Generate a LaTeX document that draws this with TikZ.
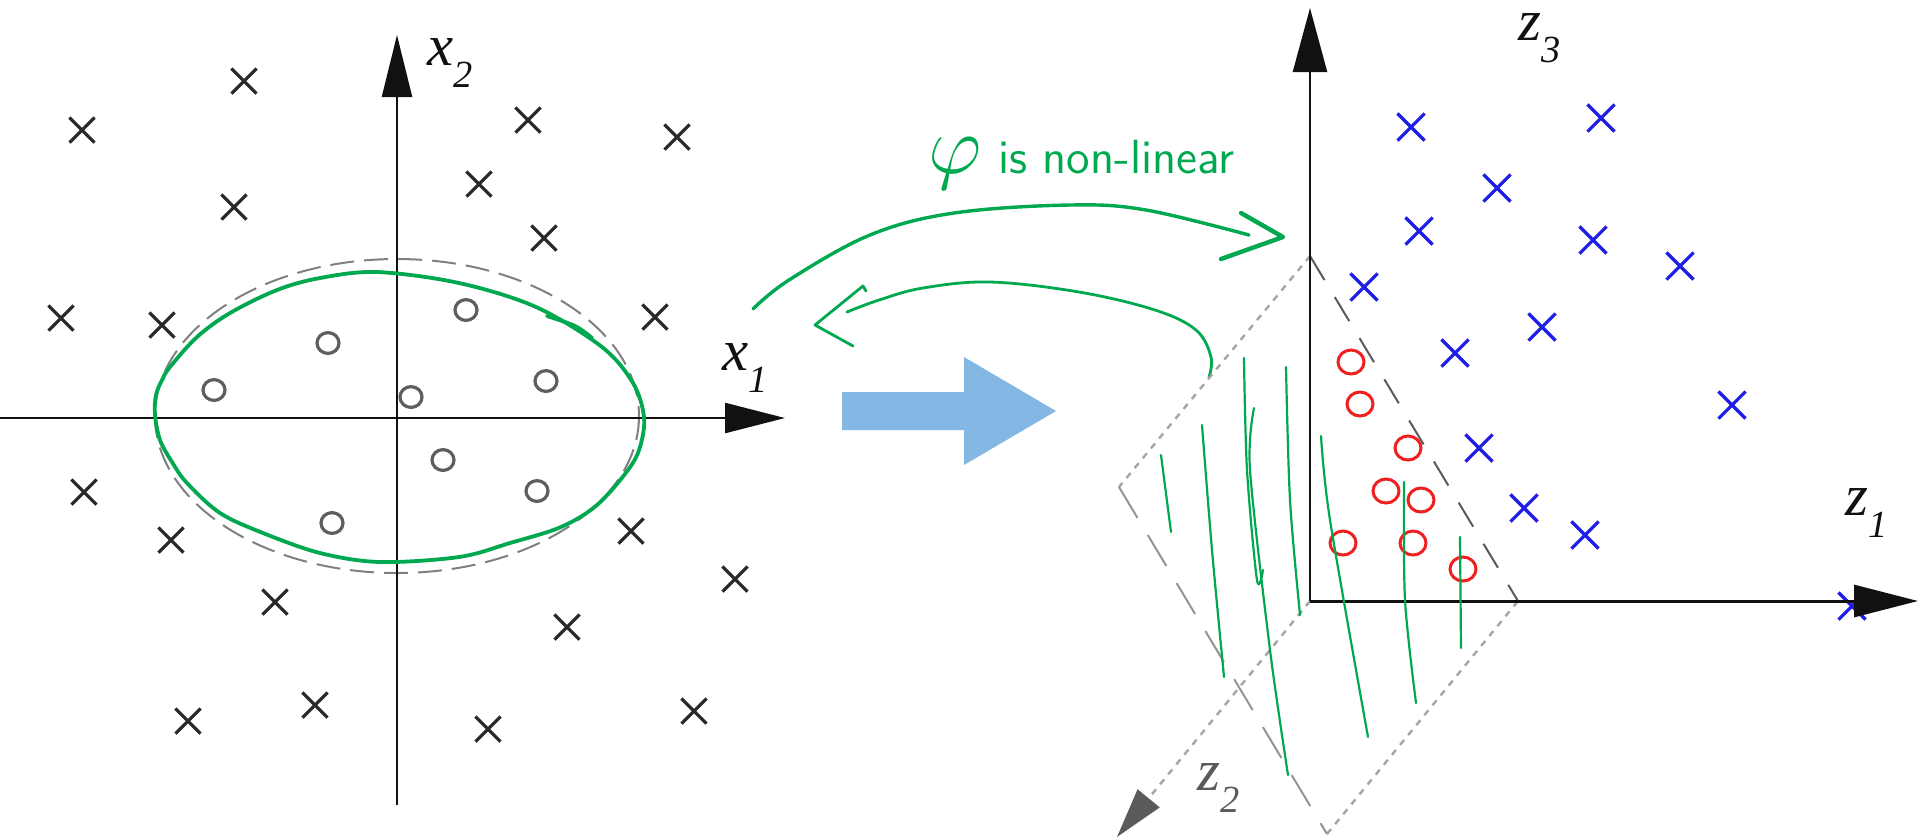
\documentclass[tikz,border=0pt]{standalone}
\usepackage{fontspec}
\setmainfont{Liberation Serif}
\usetikzlibrary{arrows.meta,shapes.geometric,shapes.misc}
\definecolor{ink}{HTML}{111111}
\definecolor{penc}{HTML}{00A84F}
\definecolor{xblue}{HTML}{1E1EE6}
\definecolor{ored}{HTML}{F02020}
\definecolor{ogray}{HTML}{5E5E5E}
\definecolor{planeln}{HTML}{5A5A5A}
\definecolor{planedot}{HTML}{A5A5A5}
\definecolor{mapblue}{HTML}{85B7E4}
\tikzset{
  axis/.style={draw=ink,line width=.6pt},
  xmark/.style={cross out,draw=ink!90,line width=.8pt,minimum size=5.5pt,inner sep=0pt},
  xmarkb/.style={xmark,draw=xblue,minimum size=6pt,line width=.8pt},
  omark/.style={ellipse,draw=ogray,line width=.8pt,minimum width=5.5pt,minimum height=5.2pt,inner sep=0pt},
  omarkr/.style={omark,draw=ored,line width=.75pt,minimum width=6.5pt,minimum height=6pt},
  pen/.style={draw=penc,line width=.75pt,line cap=round,line join=round},
  hatch/.style={pen,line width=.55pt},
  lab/.style={inner sep=0pt,anchor=base west,text=ink},
}
\newcommand{\axlab}[2]{\fontsize{14.7}{16}\selectfont\itshape #1\raisebox{-5.5pt}{\fontsize{9.6}{10}\selectfont #2}}

\begin{document}
\begin{tikzpicture}[x=0.25pt,y=-0.25pt]
  \useasboundingbox (0,0) rectangle (1920,839);
  % input space
  \coordinate (o1) at (397,418);
  \coordinate (x1start) at (0,418); \coordinate (x1tip) at (785,418);
  \coordinate (x2start) at (397,805); \coordinate (x2tip) at (397,35);
  \draw[draw=gray,line width=.5pt,dash pattern=on 6pt off 2.5pt] (397,416) ellipse [x radius=242,y radius=157];
  \draw[axis,-{Triangle[length=15pt,width=7.5pt]}] (x1start) -- (x1tip);
  \draw[axis,-{Triangle[length=15.5pt,width=7.5pt]}] (x2start) -- (x2tip);
  \node[lab] (x1lab) at (722,370) {\axlab{x}{1}};
  \node[lab] (x2lab) at (427,65) {\axlab{x}{2}};
  \foreach \p [count=\i] in {(244,81),(82,130),(528,120),(677,137),(479,184),(234,207),(544,238),
    (61,318),(162,325),(655,317),(84,492),(171,540),(631,531),(735,579),(275,602),(567,627),
    (315,705),(188,721),(488,729),(694,711)}
    \node[xmark] (cx\i) at \p {};
  \foreach \p [count=\i] in {(214,390),(328,343),(466,310),(546,381),(411,397),(443,460),(537,491),(332,523)}
    \node[omark] (cl\i) at \p {};
  \draw[pen,line width=.95pt] plot[smooth cycle,tension=.55] coordinates {(155,415) (156,395) (162,380)
    (170,367) (197,337) (230,313) (277,290) (320,278) (377,272) (459,283) (536,307) (602,347) (633,383)
    (644,417) (640,447) (628,470) (597,505) (561,527) (510,543) (459,557) (380,562) (320,553) (263,533)
    (220,513) (187,483) (172,462) (160,440)};
  \draw[pen,line width=.95pt] plot[smooth,tension=.6] coordinates {(547,316) (575,326) (592,338)};

  % the map
  \fill[mapblue] (842,392) -- (964,392) -- (964,357) -- (1056,411) -- (964,465) -- (964,430) -- (842,430) -- cycle;
  \node[lab,text=penc] (phi) at (928,173) {{\fontsize{20}{20}\selectfont$\varphi$}\hspace{4pt}{\sffamily\fontsize{12}{12}\selectfont is non-linear}};
  \draw[pen,line width=.85pt] plot[smooth,tension=.6] coordinates {(753,309) (789,280) (870,235) (954,213) (1070,205) (1146,210) (1249,235)};
  \draw[pen,line width=1.1pt] (1241,213) -- (1283,237) -- (1221,259);
  \draw[pen,line width=.7pt] plot[smooth,tension=.6] coordinates {(1209,377) (1211,357) (1196,330) (1155,310) (1079,292) (990,282) (923,288) (879,300) (847,312)};
  \draw[pen,line width=.7pt] (866,291) -- (863,286) -- (815,325) -- (853,346);

  % feature space
  \coordinate (o2) at (1310,601);
  \coordinate (z1tip) at (1918,601); \coordinate (z3tip) at (1310,8); \coordinate (z2tip) at (1117,837);
  \coordinate (pt) at (1310,256); \coordinate (pl) at (1119,487);
  \coordinate (pb) at (1327,834); \coordinate (pr) at (1518,601);
  \draw[draw=planedot,line width=.6pt,dash pattern=on 1.6pt off 1.6pt] (pt) -- (pl);
  \draw[draw=planedot,line width=.6pt,dash pattern=on 1.6pt off 1.6pt] (pb) -- (pr);
  \draw[draw=planeln,line width=.5pt,dash pattern=on 7pt off 5pt] (pt) -- (pr);
  \draw[draw=planedot!90!black,line width=.5pt,dash pattern=on 9pt off 5pt] (pl) -- (pb);
  \draw[draw=planedot,line width=.6pt,dash pattern=on 1.6pt off 1.6pt,-{Triangle[length=12.5pt,width=7pt,color=planeln]}] (o2) -- (z2tip);
  \foreach \p [count=\i] in {(1411,127),(1601,118),(1497,188),(1419,231),(1593,240),(1680,266),(1364,287),
    (1542,327),(1455,353),(1732,405),(1479,448),(1524,508),(1585,535),(1852,606)}
    \node[xmarkb] (bx\i) at \p {};
  \foreach \p [count=\i] in {(1351,362),(1360,404),(1408,448),(1386,491),(1421,500),(1343,543),(1413,543),(1463,569)}
    \node[omarkr] (ro\i) at \p {};
  \draw[axis,line width=.75pt,-{Triangle[length=16pt,width=8pt]}] (o2) -- (z1tip);
  \draw[axis,line width=.6pt,-{Triangle[length=16pt,width=8.5pt]}] (o2) -- (z3tip);
  \node[lab] (z1lab) at (1845,515) {\axlab{z}{1}};
  \node[lab,text=planeln] (z2lab) at (1197,790) {\axlab{z}{2}};
  \node[lab] (z3lab) at (1518,40) {\axlab{z}{3}};
  % hand hatching of the plane
  \draw[hatch] (1161,455) -- (1171,532);
  \draw[hatch] plot[smooth] coordinates {(1202,425) (1212,550) (1224,677)};
  \draw[hatch] plot[smooth] coordinates {(1244,358) (1247,470) (1257,580) (1263,570)};
  \draw[hatch] plot[smooth] coordinates {(1254,408) (1250,470) (1270,650) (1288,775)};
  \draw[hatch] plot[smooth] coordinates {(1286,367) (1290,500) (1300,615)};
  \draw[hatch] plot[smooth] coordinates {(1321,436) (1330,520) (1368,737)};
  \draw[hatch] plot[smooth] coordinates {(1404,482) (1405,600) (1416,703)};
  \draw[hatch] (1460,537) -- (1461,648);
\end{tikzpicture}
\end{document}
